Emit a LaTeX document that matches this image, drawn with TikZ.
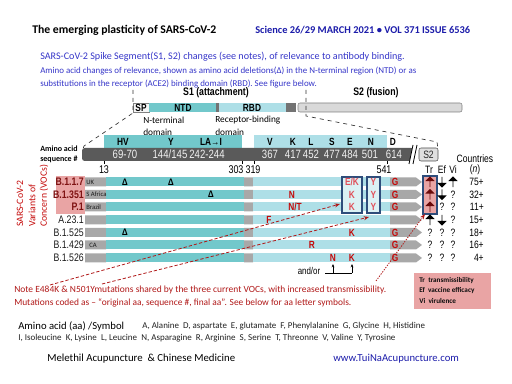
\documentclass[tikz,border=0pt]{standalone}
\usepackage{fontspec}
\setmainfont{Carlito}
\newfontfamily\cond[FakeStretch=0.8]{Liberation Sans}
\usetikzlibrary{shapes.arrows,arrows.meta}
\definecolor{tealbar}{HTML}{72C8CB}
\definecolor{lightbar}{HTML}{AEDFE7}
\definecolor{greybar}{HTML}{A8A8A8}
\definecolor{darkbar}{HTML}{5A5A5A}
\definecolor{pinkbox}{HTML}{E9A4A4}
\definecolor{mutred}{HTML}{C40A0A}
\definecolor{boxred}{HTML}{E0505A}
\definecolor{vocred}{HTML}{7E1212}
\definecolor{trred}{HTML}{6B0A0A}
\definecolor{framec}{HTML}{2E4D7B}
\definecolor{sciblue}{HTML}{1C1CAA}
\definecolor{txtblue}{HTML}{3535C8}
\definecolor{notered}{HTML}{B01818}
\newcommand{\fsz}[1]{\fontsize{#1}{#1}\selectfont}
\begin{document}
\begin{tikzpicture}[x=0.75pt,y=-0.75pt,
	txt/.style={inner sep=0pt, anchor=west},
	lab/.style={inner sep=0pt, font=\cond\bfseries\fsz{7.8}},
	num/.style={inner sep=0pt, text=gray!12, font=\cond\fsz{9}},
	mut/.style={inner sep=0pt, text=mutred, font=\cond\bfseries\fsz{7.8}},
	boxmut/.style={mut, text=boxred},
	del/.style={inner sep=0pt, font=\bfseries\fsz{7.5}},
	varname/.style={inner sep=0pt, anchor=east, text=gray!20!black, font=\cond\fsz{8.2}},
	vocname/.style={varname, text=vocred, font=\cond\bfseries\fsz{8.2}},
	place/.style={inner sep=0pt, text=gray!20!black, font=\fsz{5}},
	qm/.style={inner sep=0pt, font=\cond\fsz{8}},
	up/.style={single arrow, shape border rotate=90, fill=#1, inner sep=0pt,
		minimum height=8pt, minimum width=7pt, single arrow head extend=1.8pt},
	down/.style={up=#1, shape border rotate=270},
	redarrow/.style={notered, line width=0.6pt, dash pattern=on 2.5pt off 1.5pt, -{Stealth[length=4pt,width=3pt]}}]
	\useasboundingbox (0,0) rectangle (512,384);

	% heading
	\node (T)   at (32,30)  [txt, font=\bfseries\fsz{8.8}] {The emerging plasticity of SARS-CoV-2};
	\node (Sci) at (255,30) [txt, text=sciblue, font=\bfseries\fsz{7.8}] {Science 26/29 MARCH 2021 • VOL 371 ISSUE 6536};
	\node (D1)  at (40,57)  [txt, text=txtblue, font=\fsz{7.6}] {SARS-CoV-2 Spike Segment(S1, S2) changes (see notes), of relevance to antibody binding.};
	\node (D2)  at (40,71)  [txt, text=txtblue, font=\fsz{6.7}] {Amino acid changes of relevance, shown as amino acid deletions(Δ) in the N-terminal region (NTD) or as};
	\node (D3)  at (40,84)  [txt, text=txtblue, font=\fsz{6.7}] {substitutions in the receptor (ACE2) binding domain (RBD). See figure below.};

	% spike segment
	\node (S1) at (216,93) [inner sep=0pt, font=\cond\bfseries\fsz{8.2}] {S1 (attachment)};
	\node (S2) at (376,93) [inner sep=0pt, font=\cond\bfseries\fsz{8.2}] {S2 (fusion)};
	\filldraw[fill=gray!8, draw=gray] (133,103) rectangle (149,112);
	\fill[tealbar] (149,103) rectangle (216,112);
	\fill[darkbar!85] (216,103) rectangle (219,112);
	\fill[lightbar] (219,103) rectangle (286,112);
	\fill[darkbar!85] (286,103) rectangle (296,112);
	\filldraw[fill=gray!30, draw=gray, rounded corners=1.5] (298,103) rectangle (462,112);
	\node (SP)  at (141,107.5) [lab] {SP};
	\node (NTD) at (183,107.5) [lab] {NTD};
	\node (RBD) at (252,107.5) [lab] {RBD};
	\node (NT1) at (143,120) [txt, font=\fsz{7}] {N-terminal};
	\node (NT2) at (143,132) [txt, font=\fsz{7}] {domain};
	\node (RB1) at (215,120) [txt, font=\fsz{7}] {Receptor-binding};
	\node (RB2) at (215,132) [txt, font=\fsz{7}] {domain};
	\draw[gray!40!black, dashed, line width=0.5pt] (133,90) -- (133,113) -- (84,146) -- (83,149);
	\draw[gray!40!black, dashed, line width=0.5pt] (306,90) -- (306,116) -- (437,142) -- (438,149);

	% amino acid sequence bar
	\fill[tealbar] (104,135) rectangle (242,148);
	\fill[lightbar] (254,135) rectangle (387,148);
	\fill[darkbar, rounded corners=2] (82,148) rectangle (414,161);
	\fill[white] (409,164) -- (413,145) -- (417,145) -- (413,164) -- cycle;
	\draw[line width=0.6pt] (409,164) -- (413,145) (413,164) -- (417,145);
	\filldraw[fill=gray!25, draw=gray!60!black, rounded corners=1.5] (419,148) rectangle (438,161);
	\node (S2s) at (428.5,154.5) [inner sep=0pt, text=gray!30!black, font=\cond\fsz{8}] {S2};
	\node (HV)  at (123,141.5) [lab] {HV};
	\node (Y)   at (171,141.5) [lab] {Y};
	\node (LAI) at (211,141.5) [lab] {LA→I};
	\node (V)   at (270,141.5) [lab] {V};
	\node (K)   at (293,141.5) [lab] {K};
	\node (L)   at (311,141.5) [lab] {L};
	\node (S)   at (332,141.5) [lab] {S};
	\node (E)   at (350,141.5) [lab] {E};
	\node (N)   at (371,141.5) [lab] {N};
	\node (D)   at (393,141.5) [lab] {D};
	\node (n69)  at (125,154.5) [num] {69-70};
	\node (n144) at (170,154.5) [num] {144/145};
	\node (n242) at (207,154.5) [num] {242-244};
	\node (n367) at (270,154.5) [num] {367};
	\node (n417) at (293,154.5) [num] {417};
	\node (n452) at (311,154.5) [num] {452};
	\node (n477) at (332,154.5) [num] {477};
	\node (n484) at (350,154.5) [num] {484};
	\node (n501) at (370,154.5) [num] {501};
	\node (n614) at (394,154.5) [num] {614};
	\node (AA0) at (40,149) [txt, font=\bfseries\fsz{6}] {Amino acid};
	\node (SQ0) at (40,159) [txt, font=\bfseries\fsz{6}] {sequence \#};
	\draw[line width=0.5pt] (104,161) -- (104,164) (242,161) -- (242,164) (254,161) -- (254,164) (387,161) -- (387,164);
	\node (p13)  at (104,170) [inner sep=0pt, font=\cond\fsz{8.4}] {13};
	\node (p303) at (236,170) [inner sep=0pt, font=\cond\fsz{8.4}] {303};
	\node (p319) at (253,170) [inner sep=0pt, font=\cond\fsz{8.4}] {319};
	\node (p541) at (384,170) [inner sep=0pt, font=\cond\fsz{8.4}] {541};
	\node (Tr) at (429,170) [qm] {Tr};
	\node (Ef) at (442,170) [qm] {Ef};
	\node (Vi) at (453,170) [qm] {Vi};
	\node (Cn) at (475,159) [qm] {Countries};
	\node (Nn) at (475,170) [qm] {(\textit{n})};

	% variant rows
	\fill[greybar] (85,177.5) rectangle (106,186.5) (244,177.5) rectangle (253,186.5) (390,177.5) -- (416,177.5) -- (422,182) -- (416,186.5) -- (390,186.5) -- cycle;
	\fill[tealbar] (106,177.5) rectangle (244,186.5);
	\fill[lightbar] (253,177.5) rectangle (390,186.5);
	\fill[greybar] (85,190) rectangle (106,199) (244,190) rectangle (253,199) (390,190) -- (416,190) -- (422,194.5) -- (416,199) -- (390,199) -- cycle;
	\fill[tealbar] (106,190) rectangle (244,199);
	\fill[lightbar] (253,190) rectangle (390,199);
	\fill[greybar] (85,202.5) rectangle (106,211.5) (244,202.5) rectangle (253,211.5) (390,202.5) -- (416,202.5) -- (422,207) -- (416,211.5) -- (390,211.5) -- cycle;
	\fill[tealbar] (106,202.5) rectangle (244,211.5);
	\fill[lightbar] (253,202.5) rectangle (390,211.5);
	\fill[greybar] (85,215.5) rectangle (106,224.5) (244,215.5) rectangle (253,224.5) (390,215.5) -- (416,215.5) -- (422,220) -- (416,224.5) -- (390,224.5) -- cycle;
	\fill[tealbar] (106,215.5) rectangle (244,224.5);
	\fill[lightbar] (253,215.5) rectangle (390,224.5);
	\fill[greybar] (85,228) rectangle (106,237) (244,228) rectangle (253,237) (390,228) -- (416,228) -- (422,232.5) -- (416,237) -- (390,237) -- cycle;
	\fill[tealbar] (106,228) rectangle (244,237);
	\fill[lightbar] (253,228) rectangle (390,237);
	\fill[greybar] (85,240.5) rectangle (106,249.5) (244,240.5) rectangle (253,249.5) (390,240.5) -- (416,240.5) -- (422,245) -- (416,249.5) -- (390,249.5) -- cycle;
	\fill[tealbar] (106,240.5) rectangle (244,249.5);
	\fill[lightbar] (253,240.5) rectangle (390,249.5);
	\fill[greybar] (85,253.5) rectangle (106,262.5) (244,253.5) rectangle (253,262.5) (390,253.5) -- (416,253.5) -- (422,258) -- (416,262.5) -- (390,262.5) -- cycle;
	\fill[tealbar] (106,253.5) rectangle (244,262.5);
	\fill[lightbar] (253,253.5) rectangle (390,262.5);

	% boxes
	\fill[pinkbox] (56,176) rectangle (85,214);
	\filldraw[fill=lightbar!45!white, draw=framec, line width=0.8pt] (342,177) rectangle (362,213);
	\filldraw[fill=lightbar!45!white, draw=framec, line width=0.8pt] (367,177) rectangle (380,213);
	\filldraw[fill=pinkbox, draw=framec, line width=0.8pt] (423,176) rectangle (437,214);

	% variant names
	\node (V1) at (20,227) [rotate=90, anchor=west, inner sep=0pt, text=mutred, font=\fsz{7.3}] {SARS-CoV-2};
	\node (V2) at (32,227) [rotate=90, anchor=west, inner sep=0pt, text=mutred, font=\fsz{7.3}] {Variants of};
	\node (V3) at (44,227) [rotate=90, anchor=west, inner sep=0pt, text=mutred, font=\fsz{7.3}] {Concern (VOCs)};
	\node (B117) at (84,182)   [vocname] {B.1.1.7};
	\node (B351) at (84,194.5) [vocname] {B.1.351};
	\node (P1)   at (84,207)   [vocname] {P.1};
	\node (A231) at (84,220)   [varname] {A.23.1};
	\node (B525) at (84,232.5) [varname] {B.1.525};
	\node (B429) at (84,245)   [varname] {B.1.429};
	\node (B526) at (84,258)   [varname] {B.1.526};
	\node (UK) at (86,182)   [place, anchor=west] {UK};
	\node (SA) at (86,194.5) [place, anchor=west] {S Africa};
	\node (BR) at (86,207)   [place, anchor=west] {Brazil};
	\node (CA) at (93,245)   [place] {CA};

	% deletions and substitutions
	\node (d1) at (125,182)   [del] {Δ};
	\node (d2) at (171,182)   [del] {Δ};
	\node (d3) at (211,194.5) [del] {Δ};
	\node (d4) at (125,232.5) [del] {Δ};
	\node (m11) at (352,182) [boxmut] {E/K};
	\node (m12) at (373.5,182) [boxmut] {Y};
	\node (m13) at (395,182) [mut] {G};
	\node (m21) at (292,194.5) [mut] {N};
	\node (m22) at (352,194.5) [boxmut] {K};
	\node (m23) at (373.5,194.5) [boxmut] {Y};
	\node (m24) at (395,194.5) [mut] {G};
	\node (m31) at (295,207) [mut] {N/T};
	\node (m32) at (352,207) [boxmut] {K};
	\node (m33) at (373.5,207) [boxmut] {Y};
	\node (m34) at (395,207) [mut] {G};
	\node (m41) at (269,220) [mut] {F};
	\node (m51) at (352,232.5) [mut] {K};
	\node (m52) at (395,232.5) [mut] {G};
	\node (m61) at (312,245) [mut] {R};
	\node (m62) at (395,245) [mut] {G};
	\node (m71) at (333,258) [mut] {N};
	\node (m72) at (352,258) [mut] {K};
	\node (m73) at (395,258) [mut] {G};

	% Tr Ef Vi and countries
	\node (t1) at (430,182)   [up=trred] {};
	\node (t2) at (430,194.5) [up=trred] {};
	\node (t3) at (430,207)   [up=trred] {};
	\node (t4) at (430,220)   [up=black] {};
	\node (t5) at (430,232.5) [qm] {?};
	\node (t6) at (430,245)   [qm] {?};
	\node (t7) at (430,258)   [qm] {?};
	\node (e1) at (442,182)   [down=black] {};
	\node (e2) at (442,194.5) [down=black] {};
	\node (e3) at (442,207)   [qm] {?};
	\node (e4) at (442,220)   [down=black] {};
	\node (e5) at (442,232.5) [qm] {?};
	\node (e6) at (442,245)   [qm] {?};
	\node (e7) at (442,258)   [qm] {?};
	\node (v1) at (453,182)   [up=black] {};
	\node (v2) at (453,194.5) [qm] {?};
	\node (v3) at (453,207)   [qm] {?};
	\node (v4) at (453,220)   [qm] {?};
	\node (v5) at (453,232.5) [qm] {?};
	\node (v6) at (453,245)   [qm] {?};
	\node (v7) at (453,258)   [qm] {?};
	\node (c1) at (484,182)   [qm, anchor=east] {75+};
	\node (c2) at (484,194.5) [qm, anchor=east] {32+};
	\node (c3) at (484,207)   [qm, anchor=east] {11+};
	\node (c4) at (484,220)   [qm, anchor=east] {15+};
	\node (c5) at (484,232.5) [qm, anchor=east] {18+};
	\node (c6) at (484,245)   [qm, anchor=east] {16+};
	\node (c7) at (484,258)   [qm, anchor=east] {4+};

	% and/or
	\node (AO) at (309,271) [inner sep=0pt, font=\cond\fsz{7.4}] {and/or};
	\coordinate (A0) at (325,273);
	\coordinate (A1) at (333,273);
	\coordinate (A2) at (352,273);
	\coordinate (AN) at (333,264);
	\coordinate (AK) at (352,264);
	\draw[line width=0.5pt] (A0) -- (A2);
	\draw[line width=0.5pt, -{Stealth[length=2.5pt,width=2pt]}] (A1) -- (AN);
	\draw[line width=0.5pt, -{Stealth[length=2.5pt,width=2pt]}] (A2) -- (AK);

	% notes
	\node (N1) at (14,290) [txt, text=notered, font=\fsz{7.1}] {Note E484K \& N501Ymutations shared by the three current VOCs, with increased transmissibility.};
	\node (N2) at (14,303) [txt, text=notered, font=\fsz{7.05}] {Mutations coded as – “original aa, sequence \#, final aa”. See below for aa letter symbols.};
	\coordinate (E484) at (50,285);
	\coordinate (N501) at (102,284);
	\coordinate (Inc)  at (376,281);
	\coordinate (KT)   at (340,204);
	\coordinate (YT)   at (369,217);
	\coordinate (TrT)  at (425,214);
	\draw[redarrow] (E484) -- (KT);
	\draw[redarrow] (N501) -- (YT);
	\draw[redarrow, dash pattern=on 1pt off 1pt] (Inc) -- (TrT);

	% legend
	\fill[pinkbox] (414,273) rectangle (491,309);
	\node (L1) at (419,281) [txt, text=gray!10!black, font=\bfseries\fsz{5.4}] {Tr~~transmissibility};
	\node (L2) at (419,291) [txt, text=gray!10!black, font=\bfseries\fsz{5.4}] {Ef~~vaccine efficacy};
	\node (L3) at (419,301) [txt, text=gray!10!black, font=\bfseries\fsz{5.4}] {Vi~~virulence};

	% amino acid symbols and footer
	\node (AA)  at (18,326)  [txt, font=\fsz{8}] {Amino acid (aa) /Symbol};
	\node (AA1) at (142,326) [txt, text=gray!25!black, font=\fsz{6.7}] {A, Alanine~~D, aspartate~~E, glutamate~~F, Phenylalanine~~G, Glycine~~H, Histidine};
	\node (AA2) at (18,338)  [txt, text=gray!25!black, font=\fsz{6.75}] {I, Isoleucine~~K, Lysine~~L, Leucine~~N, Asparagine~~R, Arginine~~S, Serine~~T, Threonne~~V, Valine~~Y, Tyrosine};
	\node (M) at (47,359)  [txt, font=\fsz{8.1}] {Melethil Acupuncture~~\& Chinese Medicine};
	\node (W) at (333,359) [txt, text=sciblue, font=\fsz{8}] {www.TuiNaAcupuncture.com};
\end{tikzpicture}
\end{document}
